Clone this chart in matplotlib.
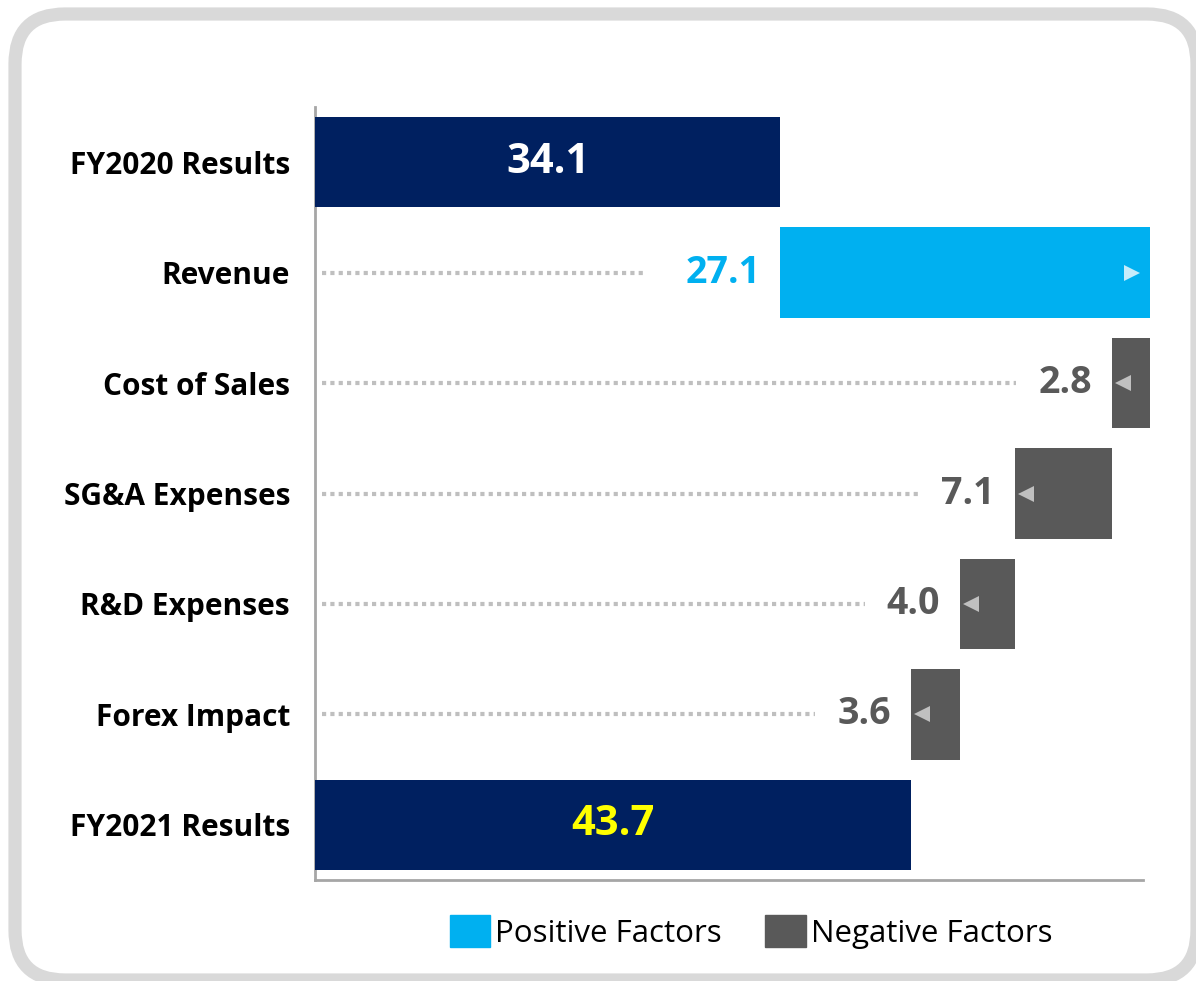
import matplotlib
matplotlib.use("Agg")
import matplotlib.pyplot as plt
from matplotlib.patches import FancyBboxPatch, Patch

# waterfall data (operating profit bridge)
categories = ["FY2020 Results", "Revenue", "Cost of Sales", "SG&A Expenses",
              "R&D Expenses", "Forex Impact", "FY2021 Results"]
values = [34.1, 27.1, -2.8, -7.1, -4.0, -3.6, 43.7]
kinds = ["total", "pos", "neg", "neg", "neg", "neg", "total"]
legend_labels = ["Positive Factors", "Negative Factors"]

NAVY = "#002060"
CYAN = "#00b0f0"
GREY = "#595959"
DOT = "#bfbfbf"

plt.rcParams["font.family"] = ["Open Sans", "DejaVu Sans"]

W, H = 1196, 981
fig = plt.figure(figsize=(W / 100, H / 100), dpi=100)

# rounded frame behind everything
bg = fig.add_axes([0, 0, 1, 1], zorder=0)
bg.set_xlim(0, W)
bg.set_ylim(H, 0)
bg.axis("off")
bg.add_patch(FancyBboxPatch((15, 14), 1182, 966,
                            boxstyle="round,pad=0,rounding_size=50",
                            fc="white", ec="#d9d9d9", lw=9.5, clip_on=False))

ax = fig.add_axes([315 / W, 1 - 880 / H, (1143 - 315) / W, (880 - 107) / H], zorder=1)
ax.patch.set_alpha(0)

ys = list(range(len(categories)))
lefts, widths, colors = [], [], []
running = 0
for v, k in zip(values, kinds):
    if k == "total":
        lefts.append(0)
        widths.append(v)
        colors.append(NAVY)
        running = v
    else:
        new = running + v
        lefts.append(min(running, new))
        widths.append(abs(v))
        colors.append(CYAN if k == "pos" else GREY)
        running = new

ax.barh(ys, widths, left=lefts, height=0.82, color=colors, clip_on=False, zorder=3)

ax.set_xlim(0, 60.7)
ax.set_ylim(6.5, -0.5)

labels = []
for y, v, k, l, w in zip(ys, values, kinds, lefts, widths):
    txt = f"{abs(v):.1f}"
    if k == "total":
        c = "white" if y == 0 else "#ffff00"
        ax.text(l + w / 2, y, txt, ha="center", va="center", color=c,
                fontsize=30, fontweight="bold", zorder=4)
    else:
        c = CYAN if k == "pos" else GREY
        t = ax.annotate(txt, xy=(l, y), xytext=(-20, 0), textcoords="offset pixels",
                        ha="right", va="center", color=c, fontsize=27,
                        fontweight="bold", zorder=4)
        labels.append((t, y, k))
        # little arrow marker inside the bar
        if k == "pos":
            ax.plot(l + w - 1.3, y, marker=">", ms=12, color="#c6ecfb", mew=0,
                    clip_on=False, zorder=5)
        else:
            ax.plot(l + 0.8, y, marker="<", ms=12, color="#c0c0c0", mew=0,
                    clip_on=False, zorder=5)

# dotted guide lines end just before each label
fig.canvas.draw()
r = fig.canvas.get_renderer()
inv = ax.transData.inverted()
for t, y, k in labels:
    bb = t.get_window_extent(r)
    gap = 40 if k == "pos" else 22
    xend = inv.transform((bb.x0 - gap, 0))[0]
    ax.plot([0.5, xend], [y, y], color=DOT, lw=3, linestyle=(0, (1, 1)),
            zorder=2)

ax.set_yticks(ys)
ax.set_yticklabels(categories, fontsize=21.5, fontweight="bold")
ax.tick_params(axis="y", length=0, pad=18)
ax.set_xticks([])
for s in ["top", "right"]:
    ax.spines[s].set_visible(False)
for s in ["left", "bottom"]:
    ax.spines[s].set_color("#a6a6a6")
    ax.spines[s].set_linewidth(2)

handles = [Patch(color=CYAN), Patch(color=GREY)]
fig.legend(handles, legend_labels, loc="center", bbox_to_anchor=(751 / W, 1 - 932 / H),
           ncol=2, frameon=False, fontsize=22.5, handlelength=1.3, handleheight=1.2,
           handletextpad=0.15, columnspacing=1.4)

fig.savefig("out.png", dpi=100)
